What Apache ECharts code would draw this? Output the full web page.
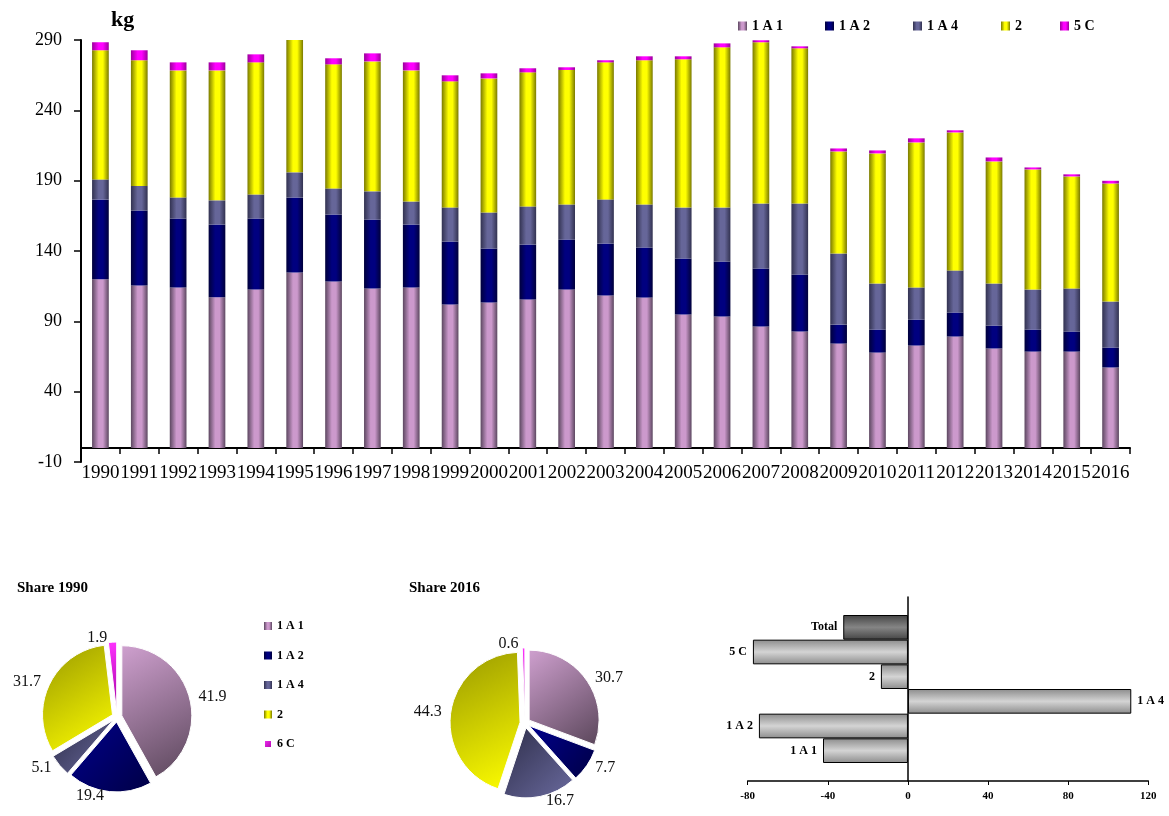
<!DOCTYPE html>
<html><head><meta charset="utf-8">
<script src="https://cdn.jsdelivr.net/npm/echarts@6/dist/echarts.min.js"></script>
<style>html,body{margin:0;padding:0;background:#fff;}#c{width:1169px;height:816px;}</style>
</head><body><div id="c"></div>
<script>
// ---------- data ----------
const years = ['1990','1991','1992','1993','1994','1995','1996','1997','1998','1999','2000','2001','2002','2003','2004','2005','2006','2007','2008','2009','2010','2011','2012','2013','2014','2015','2016'];
const seriesNames = ['1 A 1','1 A 2','1 A 4','2','5 C'];
const s1A1 = [120.0,115.5,114.1,107.2,112.6,124.7,118.3,113.4,114.1,102.0,103.4,105.5,112.6,108.4,106.9,94.9,93.4,86.3,82.8,74.2,67.8,72.8,79.2,70.7,68.5,68.5,57.2];
const s1A2 = [56.7,53.3,49.0,51.7,50.5,53.4,47.7,49.0,44.8,44.8,38.4,39.2,35.6,37.0,35.6,39.8,39.2,41.3,40.5,13.5,16.4,18.5,17.1,16.3,15.7,14.3,14.2];
const s1A4 = [14.2,17.4,15.0,17.1,17.1,17.8,18.5,20.0,16.3,24.2,25.6,27.0,24.9,31.3,30.6,36.3,38.4,46.2,50.5,50.5,32.7,22.8,29.9,29.9,28.4,30.6,32.7];
const s2   = [91.8,89.4,90.3,92.4,93.9,95.0,88.2,92.4,93.2,89.6,95.3,95.3,95.6,97.4,102.5,105.3,113.8,114.6,110.3,72.6,92.5,103.1,98.1,86.8,85.4,79.6,83.9];
const s5C  = [5.7,7.1,5.7,5.7,5.7,5.0,4.3,5.7,5.7,4.3,3.6,2.9,1.9,1.5,2.8,2.1,2.8,1.4,1.4,2.1,2.1,2.9,1.5,2.8,1.4,1.5,1.9];
const yTicks = [-10,40,90,140,190,240,290];

const pieNames = ['1 A 1','1 A 2','1 A 4','2','6 C'];
const share1990 = [41.9,19.4,5.1,31.7,1.9];
const share2016 = [30.7,7.7,16.7,44.3,0.6];

const changeCats = ['1 A 1','1 A 2','1 A 4','2','5 C','Total'];
const changeVals = [-42.4,-74.4,111.5,-13.5,-77.4,-32.3];
const changeTicks = [-80,-40,0,40,80,120];

// ---------- styles ----------
const FONT = '"Liberation Serif","Times New Roman",serif';
const edge = ['#5c4760','#00003a','#323250','#7a7a00','#9a009a'];
const mid  = ['#cc99cc','#000080','#666699','#ffff00','#ff00ff'];
function barGrad(i){
  return {type:'linear',x:0,y:0,x2:1,y2:0,colorStops:[
    {offset:0,color:edge[i]},{offset:0.4,color:mid[i]},{offset:0.65,color:mid[i]},{offset:1,color:edge[i]}]};
}
const pieA = ['#cfa0cf','#00008c','#2e2e4a','#999900','#ff33ff'];
const pieB = ['#5a465a','#000045','#6a6a9e','#ffff00','#a000a0'];
function pieGrad(i){
  return {type:'linear',x:0,y:0,x2:1,y2:1,colorStops:[{offset:0,color:pieA[i]},{offset:1,color:pieB[i]}]};
}
function pieData(vals){
  return vals.map((v,i)=>({name:pieNames[i],value:v,selected:true,itemStyle:{color:pieGrad(i)}}));
}
const greyGrad = {type:'linear',x:0,y:0,x2:0,y2:1,colorStops:[{offset:0,color:'#8c8c8c'},{offset:0.5,color:'#d4d4d4'},{offset:1,color:'#8c8c8c'}]};
const darkGrad = {type:'linear',x:0,y:0,x2:0,y2:1,colorStops:[{offset:0,color:'#444'},{offset:0.5,color:'#858585'},{offset:1,color:'#444'}]};

const stackVals = [s1A1,s1A2,s1A4,s2,s5C];
const barSeries = seriesNames.map((n,i)=>({
  name:n,type:'bar',stack:'t',xAxisIndex:0,yAxisIndex:0,barWidth:'43%',
  itemStyle:{color:barGrad(i)},data:stackVals[i]
}));

const legendLefts = [738,825,913,1001,1060];
const topLegends = seriesNames.map((n,i)=>({
  data:[n],left:legendLefts[i],top:19,padding:0,itemWidth:9,itemHeight:9,icon:'rect',
  textStyle:{fontFamily:FONT,fontWeight:'bold',fontSize:14,color:'#000'}
}));

const chart = echarts.init(document.getElementById('c'));
chart.setOption({
  animation:false,
  backgroundColor:'#fff',
  title:[
    {text:'kg',left:106,top:4,textStyle:{fontFamily:FONT,fontWeight:'bold',fontSize:22,color:'#000'}},
    {text:'Share 1990',left:12,top:576,textStyle:{fontFamily:FONT,fontWeight:'bold',fontSize:15,color:'#000'}},
    {text:'Share 2016',left:404,top:576,textStyle:{fontFamily:FONT,fontWeight:'bold',fontSize:15,color:'#000'}}
  ],
  legend:topLegends.concat([{
    data:pieNames,orient:'vertical',left:263,top:620,padding:0,itemGap:17.5,itemWidth:8,itemHeight:8,icon:'rect',
    textStyle:{fontFamily:FONT,fontWeight:'bold',fontSize:12,color:'#000'}
  }]),
  grid:[
    {left:81,right:39,top:40,bottom:354},
    {left:747.7,right:20.7,top:615,height:148},
    {left:747.7,right:20.7,top:597,bottom:35}
  ],
  xAxis:[
    {type:'category',gridIndex:0,data:years,
     axisLine:{show:true,onZero:true,lineStyle:{color:'#000',width:2}},
     axisTick:{show:true,length:6,lineStyle:{color:'#000',width:1.5}},
     axisLabel:{interval:0,margin:2,fontFamily:FONT,fontSize:19,color:'#000'}},
    {type:'value',gridIndex:1,min:changeTicks[0],max:changeTicks[changeTicks.length-1],interval:40,offset:18,
     axisLine:{show:true,onZero:false,lineStyle:{color:'#000',width:1.5}},
     axisTick:{show:true,length:4,lineStyle:{color:'#000'}},
     splitLine:{show:false},
     axisLabel:{margin:10,fontFamily:FONT,fontWeight:'bold',fontSize:11,color:'#000'}},
    {type:'value',gridIndex:2,min:changeTicks[0],max:changeTicks[changeTicks.length-1],show:false}
  ],
  yAxis:[
    {type:'value',gridIndex:0,min:yTicks[0],max:yTicks[yTicks.length-1],interval:50,
     axisLine:{show:true,lineStyle:{color:'#000',width:2}},
     axisTick:{show:true,length:7,lineStyle:{color:'#000',width:1.5}},
     splitLine:{show:false},
     axisLabel:{margin:19,fontFamily:FONT,fontSize:18,color:'#000'}},
    {type:'category',gridIndex:1,data:changeCats,
     axisLine:{show:false},axisTick:{show:false},axisLabel:{show:false}},
    {type:'value',gridIndex:2,
     axisLine:{show:true,onZero:true,lineStyle:{color:'#000',width:1.5}},
     axisTick:{show:false},axisLabel:{show:false},splitLine:{show:false}}
  ],
  series:barSeries.concat([
    {type:'bar',xAxisIndex:1,yAxisIndex:1,barCategoryGap:'0%',
     itemStyle:{color:greyGrad,borderColor:'#000',borderWidth:1},
     label:{show:true,formatter:'{b}',fontFamily:FONT,fontWeight:'bold',fontSize:12,color:'#000',distance:6},
     data:changeVals.map((v,i)=>({value:v,
       itemStyle:changeCats[i]==='Total'?{color:darkGrad,borderColor:'#000',borderWidth:1}:undefined,
       label:{position:v<0?'left':'right'}}))},
    {type:'pie',center:[117,717],radius:70,startAngle:90,clockwise:true,
     selectedMode:'multiple',selectedOffset:5,
     itemStyle:{borderColor:'#fff',borderWidth:1},
     label:{show:true,position:'outside',formatter:'{c}',fontFamily:FONT,fontSize:16,color:'#111'},
     labelLine:{show:false,length:4,length2:0},
     emphasis:{disabled:true},
     data:pieData(share1990)},
    {type:'pie',center:[525,723],radius:70,startAngle:90,clockwise:true,
     selectedMode:'multiple',selectedOffset:5,
     itemStyle:{borderColor:'#fff',borderWidth:1},
     label:{show:true,position:'outside',formatter:'{c}',fontFamily:FONT,fontSize:16,color:'#111'},
     labelLine:{show:false,length:4,length2:0},
     emphasis:{disabled:true},
     data:pieData(share2016)}
  ])
});
</script></body></html>
